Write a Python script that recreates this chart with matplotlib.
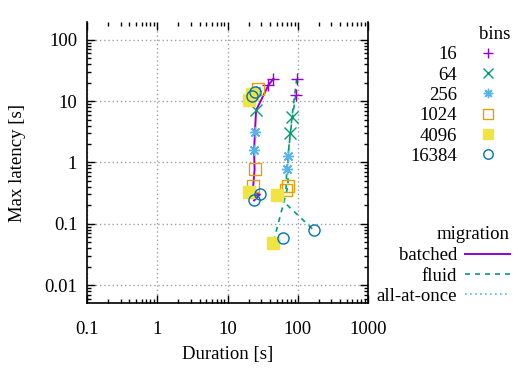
import matplotlib
matplotlib.use("Agg")
import matplotlib.pyplot as plt
from matplotlib.lines import Line2D
from matplotlib.ticker import LogLocator, FixedLocator, FixedFormatter, NullFormatter

plt.rcParams['font.family'] = ['Liberation Serif', 'DejaVu Serif']
FS = 13.5

# ---- data ----
bins = [16, 64, 256, 1024, 4096, 16384]
bin_labels = ["16", "64", "256", "1024", "4096", "16384"]

# batched migration
batched_bins = [16, 16, 64, 256, 256, 1024, 1024, 4096, 16384, 16384]
batched_dur = [44.9, 38.1, 25.5, 24.6, 23.9, 24.3, 23.2, 20.5, 28.9, 23.9]
batched_lat = [23.2, 18.0, 7.06, 3.09, 1.57, 0.77, 0.41, 0.33, 0.30, 0.24]

# fluid migration (two runs)
fluid_a_bins = [16, 64, 256, 1024, 4096, 16384]
fluid_a_dur = [96.6, 82.8, 72.6, 72.6, 44.5, 61.7]
fluid_a_lat = [23.2, 5.48, 1.25, 0.41, 0.048, 0.058]
fluid_b_bins = [16, 64, 256, 1024, 4096, 16384]
fluid_b_dur = [93.5, 78.3, 69.6, 68.0, 50.7, 170.0]
fluid_b_lat = [12.7, 3.05, 0.77, 0.35, 0.29, 0.078]

# all-at-once migration
aao_bins = [256, 1024, 4096, 4096, 16384, 16384]
aao_dur = [25.5, 27.4, 22.1, 20.5, 24.6, 22.6]
aao_lat = [14.5, 15.9, 13.2, 10.5, 14.3, 12.0]

x_ticks = [0.1, 1, 10, 100, 1000]
x_ticklabels = ["0.1", "1", "10", "100", "1000"]
y_ticks = [0.01, 0.1, 1, 10, 100]
y_ticklabels = ["0.01", "0.1", "1", "10", "100"]

# ---- styles ----
bin_style = {
    16: dict(marker='+', color='#9400d3', mfc='none'),
    64: dict(marker='x', color='#009e73', mfc='none'),
    256: dict(marker=(8, 2, 0), color='#56b4e9', mfc='none'),
    1024: dict(marker='s', color='#e69f00', mfc='none'),
    4096: dict(marker='s', color='#f0e442', mfc='#f0e442'),
    16384: dict(marker='o', color='#0072b2', mfc='none'),
}
MS = 8
MEW = 1.0

fig = plt.figure(figsize=(5.27, 3.68), dpi=100)
ax = fig.add_axes([87/527, 65/368, 281/527, 281/368])
ax.set_xscale('log')
ax.set_yscale('log')
ax.set_xlim(0.1, 1000)
ax.set_ylim(0.0051, 195)

# lines
ax.plot(batched_dur, batched_lat, color='#9400d3', lw=1.4, zorder=2)
ax.plot(fluid_a_dur, fluid_a_lat, color='#009e73', lw=1.2, dashes=(3, 3), zorder=2)
ax.plot(fluid_b_dur, fluid_b_lat, color='#009e73', lw=1.2, dashes=(3, 3), zorder=2)
ax.plot(aao_dur, aao_lat, color='#56b4e9', lw=1.2, ls=(0, (1, 2)), zorder=2)

# markers
def draw_points(bl, dl, ll):
    for b, d, l in zip(bl, dl, ll):
        st = bin_style[b]
        ax.plot([d], [l], ls='none', marker=st['marker'], color=st['color'],
                mfc=st['mfc'], ms=MS, mew=MEW, zorder=3)

draw_points(batched_bins, batched_dur, batched_lat)
draw_points(fluid_a_bins, fluid_a_dur, fluid_a_lat)
draw_points(fluid_b_bins, fluid_b_dur, fluid_b_lat)
draw_points(aao_bins, aao_dur, aao_lat)

# axes styling
ax.xaxis.set_major_locator(FixedLocator(x_ticks))
ax.xaxis.set_major_formatter(FixedFormatter(x_ticklabels))
ax.yaxis.set_major_locator(FixedLocator(y_ticks))
ax.yaxis.set_major_formatter(FixedFormatter(y_ticklabels))
ax.xaxis.set_minor_locator(LogLocator(base=10, subs=range(2, 10), numticks=20))
ax.yaxis.set_minor_locator(LogLocator(base=10, subs=range(2, 10), numticks=20))
ax.xaxis.set_minor_formatter(NullFormatter())
ax.yaxis.set_minor_formatter(NullFormatter())
ax.tick_params(which='both', direction='in', top=True, right=True, labelsize=FS, colors='black')
ax.tick_params(which='major', length=6, width=1)
ax.tick_params(which='minor', length=3, width=1)
ax.tick_params(axis='x', pad=13)
ax.tick_params(axis='y', pad=7)
ax.grid(True, which='major', color='#a0a0a0', ls=(0, (1, 2)), lw=1)
ax.spines['top'].set_visible(False)
for s in ['left', 'bottom', 'right']:
    ax.spines[s].set_linewidth(1.2)

ax.set_xlabel('Duration [s]', fontsize=FS, labelpad=6)
ax.set_ylabel('Max latency [s]', fontsize=FS, labelpad=13)

# legends
bin_handles = [Line2D([], [], ls='none', marker=bin_style[b]['marker'], color=bin_style[b]['color'],
                      mfc=bin_style[b]['mfc'], ms=MS * 0.85, mew=MEW) for b in bins]
fspx = FS * 100 / 72
leg1 = fig.legend(bin_handles, bin_labels, title='bins', loc='upper right',
                  bbox_to_anchor=(510/527, 1 - 26/368), bbox_transform=fig.transFigure,
                  frameon=False, markerfirst=False, fontsize=FS, title_fontsize=FS,
                  handlelength=45/fspx, handletextpad=8/fspx, labelspacing=0.17,
                  borderpad=0, borderaxespad=0, alignment='right', numpoints=1)
mig_handles = [Line2D([], [], color='#9400d3', lw=1.4),
               Line2D([], [], color='#009e73', lw=1.2, dashes=(3, 3)),
               Line2D([], [], color='#56b4e9', lw=1.2, ls=(0, (1, 2)))]
leg2 = fig.legend(mig_handles, ['batched', 'fluid', 'all-at-once'], title='migration', loc='upper right',
                  bbox_to_anchor=(510/527, 1 - 226/368), bbox_transform=fig.transFigure,
                  frameon=False, markerfirst=False, fontsize=FS, title_fontsize=FS,
                  handlelength=45/fspx, handletextpad=8/fspx, labelspacing=0.17,
                  borderpad=0, borderaxespad=0, alignment='right')
leg2._legend_box.sep = 3

fig.savefig('out.png', dpi=100)
